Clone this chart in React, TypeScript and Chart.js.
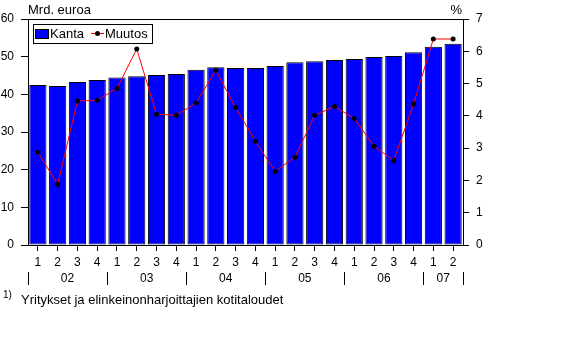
import React, { useEffect, useRef } from "react";
import { Chart, registerables } from "chart.js";

Chart.register(...registerables);

const quarters = ["1","2","3","4","1","2","3","4","1","2","3","4","1","2","3","4","1","2","3","4","1","2"];
const years = ["02","02","02","02","03","03","03","03","04","04","04","04","05","05","05","05","06","06","06","06","07","07"];
const kanta = [42.5,42.2,43.3,43.8,44.5,44.8,45.1,45.4,46.5,47.2,47.0,47.0,47.5,48.5,48.8,49.1,49.4,49.9,50.2,51.2,52.6,53.4];
const muutos = [2.87,1.88,4.46,4.48,4.85,6.07,4.05,4.02,4.40,5.41,4.26,3.21,2.28,2.72,4.02,4.29,3.92,3.06,2.62,4.37,6.38,6.38];
const leftTicks = [0,10,20,30,40,50,60];
const rightTicks = [0,1,2,3,4,5,6,7];
const leftUnit = "Mrd. euroa";
const rightUnit = "%";
const seriesNames = ["Kanta", "Muutos"];
const footnoteMark = "1)";
const footnote = "Yritykset ja elinkeinonharjoittajien kotitaloudet";

const FONT = '"Liberation Sans", Arial, sans-serif';

const annot = {
  id: "annot",
  afterDraw(chart: any) {
    const ctx = chart.ctx;
    const { left, right, top } = chart.chartArea;
    ctx.save();
    ctx.strokeStyle = "#000";
    ctx.lineWidth = 1;
    ctx.beginPath();
    ctx.moveTo(left, top + 0.5);
    ctx.lineTo(right, top + 0.5);
    ctx.stroke();

    ctx.fillStyle = "#000";
    ctx.font = `13px ${FONT}`;
    ctx.textBaseline = "middle";
    ctx.textAlign = "left";
    ctx.fillText(leftUnit, left, 10);
    ctx.textAlign = "right";
    ctx.fillText(rightUnit, right - 1, 10);

    // years
    const n = years.length;
    const w = (right - left) / n;
    let start = 0;
    const seps: number[] = [left];
    ctx.font = `12px ${FONT}`;
    for (let i = 1; i <= n; i++) {
      if (i === n || years[i] !== years[start]) {
        const x0 = left + start * w;
        const x1 = left + i * w;
        ctx.textAlign = "center";
        ctx.fillText(years[start], (x0 + x1) / 2, 279);
        seps.push(x1);
        start = i;
      }
    }
    seps.forEach((sx) => {
      const px = Math.round(sx) + 0.5;
      ctx.beginPath();
      ctx.moveTo(px, 272);
      ctx.lineTo(px, 285);
      ctx.stroke();
    });

    // legend
    ctx.font = `13px ${FONT}`;
    ctx.fillStyle = "#fff";
    ctx.fillRect(33, 24, 119, 19);
    ctx.strokeRect(33.5, 24.5, 119, 19);
    ctx.fillStyle = "#0000ff";
    ctx.fillRect(35, 29, 13, 9);
    ctx.strokeRect(35.5, 29.5, 13, 9);
    ctx.fillStyle = "#000";
    ctx.textAlign = "left";
    ctx.fillText(seriesNames[0], 50, 34);
    ctx.strokeStyle = "#ff0000";
    ctx.beginPath();
    ctx.moveTo(91, 33.5);
    ctx.lineTo(104, 33.5);
    ctx.stroke();
    ctx.fillStyle = "#000";
    ctx.beginPath();
    ctx.arc(97.5, 33.5, 2.5, 0, Math.PI * 2);
    ctx.fill();
    ctx.fillText(seriesNames[1], 105, 34);

    // footnote
    ctx.font = `10px ${FONT}`;
    ctx.fillText(footnoteMark, 3, 295);
    ctx.font = `13px ${FONT}`;
    ctx.fillText(footnote, 21, 300);
    ctx.restore();
  },
};

export default function App() {
  const ref = useRef<HTMLCanvasElement>(null);
  useEffect(() => {
    const chart = new Chart(ref.current!, {
      type: "bar",
      data: {
        labels: quarters,
        datasets: [
          {
            type: "line",
            label: seriesNames[1],
            data: muutos,
            yAxisID: "y1",
            borderColor: "#ff0000",
            borderWidth: 1,
            pointRadius: 2.5,
            pointBackgroundColor: "#000",
            pointBorderColor: "#000",
            pointBorderWidth: 0,
            tension: 0,
            order: 0,
          } as any,
          {
            type: "bar",
            label: seriesNames[0],
            data: kanta,
            yAxisID: "y",
            backgroundColor: "#0000ff",
            borderColor: "#000",
            borderWidth: 1,
            borderSkipped: false,
            barPercentage: 0.87,
            categoryPercentage: 1,
            order: 1,
          },
        ],
      },
      options: {
        animation: false,
        responsive: false,
        maintainAspectRatio: false,
        layout: { padding: { top: 19, left: 0, right: 0, bottom: 0 } },
        plugins: { legend: { display: false }, tooltip: { enabled: false } },
        scales: {
          x: {
            offset: true,
            afterFit: (s: any) => { s.height = 95; },
            grid: { offset: false, drawOnChartArea: false, drawTicks: true, tickLength: 6, color: "#000", tickColor: "#000" },
            border: { display: true, color: "#000" },
            ticks: { color: "#000", font: { family: FONT, size: 12 }, padding: 4, maxRotation: 0, autoSkip: false },
          },
          y: {
            position: "left",
            min: 0,
            max: 60,
            afterFit: (s: any) => { s.width = 28; },
            afterBuildTicks: (s: any) => { s.ticks = leftTicks.map((v) => ({ value: v })); },
            grid: { drawOnChartArea: false, drawTicks: true, tickLength: 7, color: "#000", tickColor: "#000" },
            border: { display: true, color: "#000" },
            ticks: { color: "#000", font: { family: FONT, size: 12 }, padding: 7 },
          },
          y1: {
            position: "right",
            min: 0,
            max: 7,
            afterFit: (s: any) => { s.width = 99; },
            afterBuildTicks: (s: any) => { s.ticks = rightTicks.map((v) => ({ value: v })); },
            grid: { drawOnChartArea: false, drawTicks: true, tickLength: 6, color: "#000", tickColor: "#000" },
            border: { display: true, color: "#000" },
            ticks: { color: "#000", font: { family: FONT, size: 12 }, padding: 7 },
          },
        },
      },
      plugins: [annot],
    });
    return () => chart.destroy();
  }, []);
  return (
    <div style={{ position: "fixed", left: 0, top: 0, width: 562, height: 340, background: "#fff" }}>
      <canvas ref={ref} width={562} height={340} style={{ display: "block" }} />
    </div>
  );
}
